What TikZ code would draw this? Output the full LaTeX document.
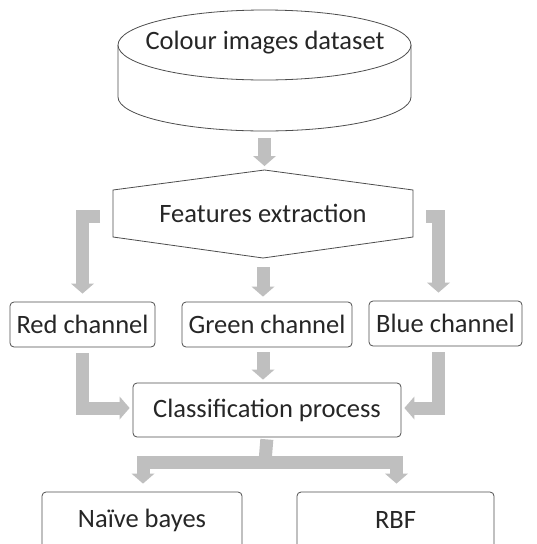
\documentclass[tikz,border=0pt]{standalone}
\usepackage{fontspec}
\setmainfont{Carlito}
\usetikzlibrary{arrows.meta}
\definecolor{arrowgray}{HTML}{BFBFBF}
\definecolor{edgegray}{HTML}{4D4D4D}
\definecolor{textgray}{HTML}{262626}
\begin{document}
\begin{tikzpicture}[x=1pt,y=-1pt,
  lbl/.style={text=textgray,font=\fontsize{26.5}{31}\selectfont,inner sep=0pt},
  box/.style={lbl,draw=edgegray,line width=0.8pt,rounded corners=4pt},
  flow/.style={draw=arrowgray,line width=13pt,line join=miter,
    -{Triangle[length=10pt,width=23pt,line width=0pt]}},
  bar/.style={draw=arrowgray,line width=13pt,line join=miter}]
\useasboundingbox (0,0) rectangle (536,544);
\clip (0,0) rectangle (536,544);
\draw[edgegray,line width=0.8pt,fill=white] (118,45) -- (118,97) arc[start angle=180,end angle=0,x radius=146.5,y radius=34] -- (411,45);
\draw[edgegray,line width=0.8pt,fill=white] (264.5,45) ellipse[x radius=146.5,y radius=35];
\node[lbl] (data) at (265,43) {Colour images dataset};
\coordinate (dbot) at (264.5,131);
\coordinate (ftop) at (264.5,170);
\coordinate (fbot) at (263,258);
\coordinate (fl) at (113,216);
\coordinate (fr) at (413,216);
\draw[edgegray,line width=0.8pt] (113,190) -- (ftop) -- (413,190) -- (413,237) -- (fbot) -- (113,237) -- cycle;
\node[lbl] (feat) at (263,213) {Features extraction};
\node[box,minimum width=145,minimum height=45] (red) at (82.5,324.5) {Red channel};
\node[box,minimum width=170,minimum height=45] (green) at (267,324.5) {Green channel};
\node[box,minimum width=153,minimum height=45] (blue) at (445.5,323.5) {Blue channel};
\node[box,minimum width=268,minimum height=54] (class) at (267,410) {Classification process};
\node[box,minimum width=200,minimum height=56] (naive) at (142,520) {Naïve bayes};
\node[box,minimum width=197,minimum height=56] (rbf) at (395.5,520) {RBF};
\coordinate (split) at (265,462);
\draw[flow,shorten <=7pt,shorten >=4pt] (dbot) -- (ftop);
\draw[flow,shorten >=4pt] ([xshift=-13pt]fl) -| ([yshift=4pt]red.north);
\draw[flow,shorten >=4pt] ([xshift=13pt]fr) -| ([xshift=-7pt,yshift=4pt]blue.north);
\draw[flow,shorten <=9pt,shorten >=5pt] (fbot) -- (fbot |- green.north);
\draw[flow,shorten <=5pt,shorten >=3pt] (fbot |- green.south) -- (fbot |- class.north);
\draw[flow,shorten <=6pt,shorten >=3pt] (red.south) |- ([yshift=2pt]class.west);
\draw[flow,shorten <=6pt,shorten >=3pt] ([xshift=-7pt]blue.south) |- ([yshift=2pt]class.east);
\draw[bar,shorten <=2pt] (class.south) -- (split);
\draw[flow,shorten >=4pt] (split) -| ([xshift=1pt,yshift=4pt]naive.north);
\draw[flow,shorten >=4pt] (split) -| ([xshift=1pt,yshift=4pt]rbf.north);
\end{tikzpicture}
\end{document}
